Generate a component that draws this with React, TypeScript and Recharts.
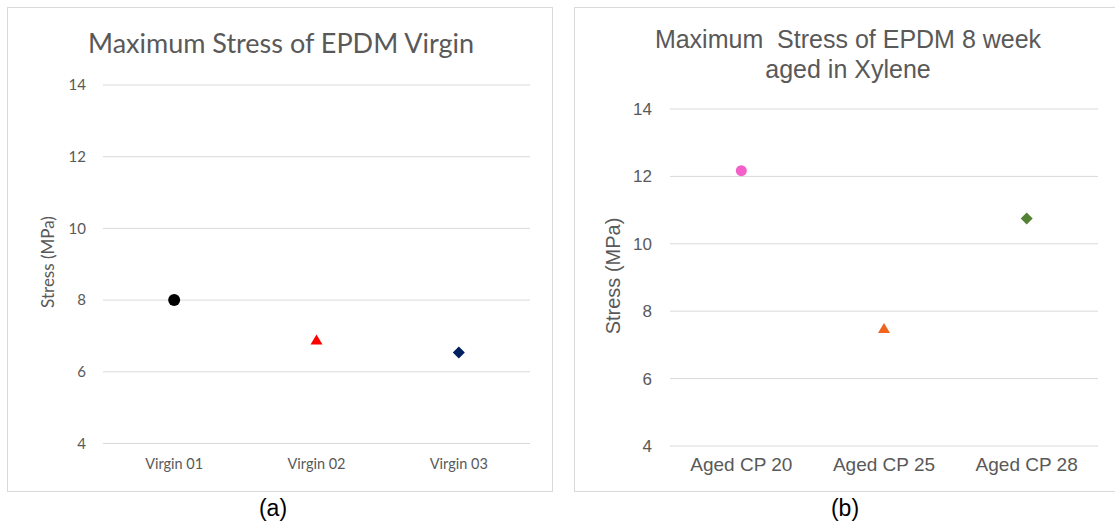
import React from 'react';
import { ScatterChart, Scatter, XAxis, YAxis, CartesianGrid } from 'recharts';

const virginCategories = ['Virgin 01', 'Virgin 02', 'Virgin 03'];
const virginStress = [8.0, 6.9, 6.54];
const agedCategories = ['Aged CP 20', 'Aged CP 25', 'Aged CP 28'];
const agedStress = [12.17, 7.5, 10.75];
const yTicks = [4, 6, 8, 10, 12, 14];

const virginColors = ['#000000', '#ff0000', '#002060'];
const agedColors = ['#f45fc8', '#f0641e', '#548235'];

const circleShape = (r: number, color: string) => (p: any) => (
  <circle cx={p.cx} cy={p.cy} r={r} fill={color} />
);
const triangleShape = (w: number, h: number, color: string) => (p: any) => (
  <path
    d={`M${p.cx},${p.cy - h / 2} L${p.cx + w / 2},${p.cy + h / 2} L${p.cx - w / 2},${p.cy + h / 2} Z`}
    fill={color}
  />
);
const diamondShape = (s: number, color: string) => (p: any) => (
  <path
    d={`M${p.cx},${p.cy - s} L${p.cx + s},${p.cy} L${p.cx},${p.cy + s} L${p.cx - s},${p.cy} Z`}
    fill={color}
  />
);

const grey = '#595959';

function Panel(props: {
  left: number;
  width: number;
  categories: string[];
  values: number[];
  shapes: any[];
  margin: any;
  font: string;
  tickSize: number;
  catSize: number;
  yTickMargin: number;
  xTickMargin: number;
}) {
  const { categories, values, shapes } = props;
  return (
    <div style={{ position: 'absolute', left: props.left, top: 7 }}>
      <ScatterChart width={props.width} height={486} margin={props.margin}>
        <CartesianGrid vertical={false} stroke="#d9d9d9" strokeWidth={1} />
        <XAxis
          type="number"
          dataKey="x"
          domain={[-0.5, 2.5]}
          ticks={[0, 1, 2]}
          tickFormatter={(v: number) => categories[v] ?? ''}
          axisLine={false}
          tickLine={false}
          height={30}
          tickMargin={props.xTickMargin}
          tick={{ fill: grey, fontSize: props.catSize, fontFamily: props.font }}
          interval={0}
        />
        <YAxis
          type="number"
          dataKey="y"
          domain={[4, 14]}
          ticks={yTicks}
          axisLine={false}
          tickLine={false}
          width={60}
          tickMargin={props.yTickMargin}
          tick={{ fill: grey, fontSize: props.tickSize, fontFamily: props.font }}
        />
        {values.map((v, i) => (
          <Scatter
            key={i}
            data={[{ x: i, y: v }]}
            shape={shapes[i]}
            isAnimationActive={false}
          />
        ))}
      </ScatterChart>
    </div>
  );
}

export default function App() {
  return (
    <div style={{ position: 'absolute', left: 0, top: 0, width: 1115, height: 530, background: '#ffffff', overflow: 'hidden' }}>
      <svg width={1115} height={530} style={{ position: 'absolute', left: 0, top: 0 }}>
        <rect x={7.5} y={7.5} width={545} height={484} fill="#ffffff" stroke="#d9d9d9" />
        <rect x={574.5} y={7.5} width={560} height={484} fill="#ffffff" stroke="#d9d9d9" />
      </svg>
      <Panel
        left={7}
        width={547}
        categories={virginCategories}
        values={virginStress}
        shapes={[
          circleShape(6, virginColors[0]),
          triangleShape(12, 10, virginColors[1]),
          diamondShape(6, virginColors[2]),
        ]}
        margin={{ top: 78, right: 24, bottom: 19.5, left: 36 }}
        font="Lato, 'Open Sans', sans-serif"
        tickSize={15}
        catSize={14.5}
        yTickMargin={11}
        xTickMargin={9}
      />
      <Panel
        left={574}
        width={541}
        categories={agedCategories}
        values={agedStress}
        shapes={[
          circleShape(5.5, agedColors[0]),
          triangleShape(12, 10, agedColors[1]),
          diamondShape(6, agedColors[2]),
        ]}
        margin={{ top: 102, right: 17, bottom: 17, left: 36 }}
        font="'Liberation Sans', Arial, sans-serif"
        tickSize={17}
        catSize={19}
        yTickMargin={12}
        xTickMargin={6}
      />
      <svg width={1115} height={530} style={{ position: 'absolute', left: 0, top: 0, pointerEvents: 'none' }}>
        <text x={281} y={53} textAnchor="middle" fontFamily="Lato, 'Open Sans', sans-serif" fontSize={27} fill={grey}>
          Maximum Stress of EPDM Virgin
        </text>
        <text x={848} y={48} textAnchor="middle" fontFamily="'Liberation Sans', Arial, sans-serif" fontSize={25} fill={grey} style={{ whiteSpace: 'pre' }}>
          {'Maximum  Stress of EPDM 8 week'}
        </text>
        <text x={848} y={78} textAnchor="middle" fontFamily="'Liberation Sans', Arial, sans-serif" fontSize={25} fill={grey}>
          aged in Xylene
        </text>
        <text
          x={0}
          y={0}
          transform="translate(54,262) rotate(-90)"
          textAnchor="middle"
          fontFamily="Lato, 'Open Sans', sans-serif"
          fontSize={17}
          fill={grey}
        >
          Stress (MPa)
        </text>
        <text
          x={0}
          y={0}
          transform="translate(620,276) rotate(-90)"
          textAnchor="middle"
          fontFamily="'Liberation Sans', Arial, sans-serif"
          fontSize={20}
          fill={grey}
        >
          Stress (MPa)
        </text>
        <text x={273} y={516} textAnchor="middle" fontFamily="'Liberation Sans', Arial, sans-serif" fontSize={23} fill="#000000">
          (a)
        </text>
        <text x={845} y={516} textAnchor="middle" fontFamily="'Liberation Sans', Arial, sans-serif" fontSize={23} fill="#000000">
          (b)
        </text>
      </svg>
    </div>
  );
}
